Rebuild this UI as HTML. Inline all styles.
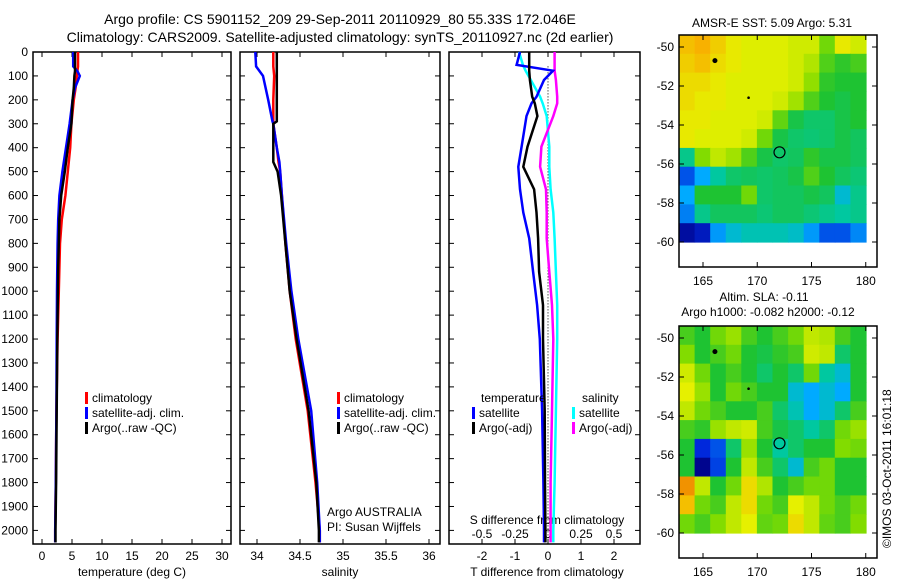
<!DOCTYPE html>
<html><head><meta charset="utf-8"><style>
body{margin:0;background:#fff}
svg{display:block;font-family:"Liberation Sans",sans-serif}
text{font-size:12px;fill:#000}
</style></head><body>
<svg id="fig" width="900" height="580" viewBox="0 0 900 580">
<text x="340" y="24" text-anchor="middle" style="font-size:14px">Argo profile: CS 5901152_209 29-Sep-2011 20110929_80 55.33S 172.046E</text>
<text x="340" y="42" text-anchor="middle" style="font-size:14px">Climatology: CARS2009. Satellite-adjusted climatology: synTS_20110927.nc (2d earlier)</text>
<text x="772" y="27" text-anchor="middle">AMSR-E SST: 5.09 Argo: 5.31</text>
<text x="764" y="301" text-anchor="middle">Altim. SLA: -0.11</text>
<text x="768" y="316" text-anchor="middle">Argo h1000: -0.082 h2000: -0.12</text>
<text transform="translate(891,548) rotate(-90)">©IMOS 03-Oct-2011 16:01:18</text>
<g id="g"></g>
</svg>
<script>
// ---- data ----
const depthTicks=[0,100,200,300,400,500,600,700,800,900,1000,1100,1200,1300,1400,1500,1600,1700,1800,1900,2000];
const tempTicks=[0,5,10,15,20,25,30];
const salTicks=[34,34.5,35,35.5,36];
const tdTicks=[-2,-1,0,1,2];
const sdTicks=["-0.5","-0.25","0","0.25","0.5"];
const lonTicks=[165,170,175,180];
const latTicks=[-50,-52,-54,-56,-58,-60];

const tDepth=[0,60,80,100,150,200,300,400,500,600,700,800,900,1000,1200,1500,1800,2000,2050];
const tClim=[6.0,6.0,5.9,5.8,5.6,5.3,4.9,4.7,4.3,3.9,3.3,3.0,2.9,2.8,2.6,2.4,2.3,2.2,2.2];
const tSat=[5.2,5.2,5.9,6.3,5.5,5.1,4.6,4.0,3.4,2.9,2.7,2.6,2.55,2.5,2.45,2.4,2.3,2.2,2.2];
const tArgo=[5.5,5.5,5.5,5.4,5.3,5.1,4.9,4.3,3.8,3.2,2.9,2.8,2.7,2.65,2.55,2.45,2.35,2.25,2.25];

const sDepth=[0,60,100,200,290,300,400,460,500,600,800,1000,1200,1500,1800,2000,2050];
const sClim=[34.19,34.19,34.2,34.19,34.19,34.19,34.23,34.25,34.27,34.29,34.33,34.38,34.45,34.59,34.68,34.73,34.73];
const sSat=[33.98,33.99,34.07,34.13,34.18,34.19,34.23,34.26,34.27,34.29,34.34,34.4,34.48,34.63,34.7,34.73,34.73];
const sArgo=[34.23,34.23,34.23,34.23,34.23,34.19,34.19,34.19,34.24,34.28,34.33,34.38,34.46,34.6,34.69,34.72,34.72];

const dDepth=[0,54,78,117,187,215,268,396,480,574,671,779,919,1058,1200,1500,1800,2000,2050];
const tdSat=[-0.85,-0.95,0.15,-0.12,-0.35,-0.5,-0.65,-0.8,-0.9,-0.85,-0.75,-0.57,-0.45,-0.33,-0.25,-0.18,-0.14,-0.12,-0.12];
const tdArgo=[-0.57,-0.57,-0.57,-0.55,-0.48,-0.4,-0.32,-0.62,-0.75,-0.42,-0.35,-0.3,-0.27,-0.15,-0.15,-0.1,-0.09,-0.08,-0.08];
const sdSat=[-0.22,-0.19,-0.17,-0.13,-0.06,-0.04,-0.01,0.01,0.01,0.02,0.04,0.05,0.06,0.07,0.07,0.06,0.05,0.04,0.04];
const sdArgo=[0.05,0.05,0.05,0.06,0.07,0.07,0.04,-0.05,-0.06,-0.015,-0.01,-0.01,0.01,0.03,0.04,0.03,0.02,0.02,0.02];

const sstGrid=[
[.82,.84,.8,.76,.74,.74,.74,.72,.72,.6,.76,.72],
[.8,.82,.78,.76,.74,.74,.74,.72,.68,.56,.52,.55],
[.78,.78,.76,.74,.74,.74,.74,.72,.64,.52,.5,.5],
[.78,.76,.76,.74,.74,.74,.72,.66,.56,.5,.48,.5],
[.76,.76,.74,.74,.74,.72,.58,.48,.45,.45,.48,.5],
[.76,.74,.74,.74,.72,.6,.48,.45,.44,.45,.48,.46],
[.42,.62,.7,.66,.56,.48,.45,.46,.52,.48,.48,.46],
[.2,.3,.4,.45,.46,.45,.46,.48,.56,.5,.46,.44],
[.3,.5,.5,.5,.6,.45,.46,.46,.48,.46,.35,.42],
[.25,.42,.46,.46,.46,.44,.46,.46,.44,.42,.4,.42],
[.05,.1,.28,.35,.38,.38,.38,.36,.28,.2,.2,.26]];
const slaGrid=[
[.55,.5,.6,.65,.55,.5,.55,.6,.7,.68,.55,.5],
[.62,.5,.55,.6,.5,.48,.52,.55,.72,.7,.45,.5],
[.72,.6,.5,.55,.5,.45,.5,.45,.6,.4,.35,.5],
[.75,.65,.5,.6,.55,.5,.5,.35,.3,.35,.3,.5],
[.7,.6,.55,.5,.5,.55,.45,.38,.3,.35,.45,.55],
[.55,.52,.65,.7,.72,.55,.48,.45,.4,.45,.6,.65],
[.5,.15,.2,.45,.65,.5,.4,.45,.5,.5,.62,.6],
[.5,.02,.18,.5,.7,.55,.45,.35,.55,.6,.5,.5],
[.88,.7,.5,.6,.78,.68,.5,.55,.6,.6,.5,.5],
[.82,.6,.55,.7,.78,.6,.55,.75,.7,.6,.55,.6],
[.6,.55,.62,.7,.75,.58,.6,.78,.7,.58,.55,.62]];
const argoLon=[172.05], argoLat=[-55.4];

// ---- helpers ----
const NS="http://www.w3.org/2000/svg";
const G=document.getElementById('g');
function el(t,a,p){const e=document.createElementNS(NS,t);for(const k in a)e.setAttribute(k,a[k]);(p||G).appendChild(e);return e;}
const yD=d=>52+d*0.2392;
function frame(x0,y0,x1,y1,name){const r=el('rect',{x:x0,y:y0,width:x1-x0,height:y1-y0,fill:'none',stroke:'#000','stroke-width':1.5});

}
function line(xs,ds,xf,col,name,w){const p=el('polyline',{points:xs.map((v,i)=>xf(v).toFixed(1)+','+yD(ds[i]).toFixed(1)).join(' '),fill:'none',stroke:col,'stroke-width':w||2.5});

}
function txt(x,y,s,name,anchor){const t=el('text',{x:x,y:y,'text-anchor':anchor||'start'});t.textContent=s;

return t;}
function tick(x1,y1,x2,y2){el('line',{x1,y1,x2,y2,stroke:'#000','stroke-width':1});}
function legend(x,y,items){items.forEach((it,i)=>{const r=el('rect',{x:x,y:y+i*15-10,width:3,height:12,fill:it[0]});


txt(x+7,y+i*15,it[1],'legend-entry');});}

// panels
const P1=[33,231],P2=[240,440],P3=[449,640],YB=544;
const xT=v=>42+v*6.0, xS=v=>257+(v-34)*86, xTD=v=>548+v*33, xSD=v=>548+v*132;
[[P1,'temperature-panel-frame'],[P2,'salinity-panel-frame'],[P3,'difference-panel-frame']].forEach(([p,n])=>frame(p[0],52,p[1],YB,n));
depthTicks.forEach(d=>{const y=yD(d);
 [P1,P2,P3].forEach(p=>{tick(p[0],y,p[0]+5,y);tick(p[1]-5,y,p[1],y);});
 txt(28,y+4,String(d),'depth-tick-label','end');});
tempTicks.forEach(v=>{tick(xT(v),YB,xT(v),YB-5);tick(xT(v),52,xT(v),57);txt(xT(v),560,String(v),'temp-tick-label','middle');});
salTicks.forEach(v=>{tick(xS(v),YB,xS(v),YB-5);tick(xS(v),52,xS(v),57);txt(xS(v),560,String(v),'salinity-tick-label','middle');});
tdTicks.forEach(v=>{tick(xTD(v),YB,xTD(v),YB-5);tick(xTD(v),52,xTD(v),57);txt(xTD(v),560,String(v),'tdiff-tick-label','middle');});
sdTicks.forEach(v=>{const x=xSD(parseFloat(v));txt(x,538,v,'sdiff-tick-label','middle');});
txt(132,576,'temperature (deg C)','x-axis-title-temperature','middle');
txt(340,576,'salinity','x-axis-title-salinity','middle');
txt(547,576,'T difference from climatology','x-axis-title-tdiff','middle');
txt(547,524,'S difference from climatology','x-axis-title-sdiff','middle');

line(tClim,tDepth,xT,'#f00','temp-climatology-line');
line(tSat,tDepth,xT,'#00f','temp-satellite-line');
line(tArgo,tDepth,xT,'#000','temp-argo-line');
legend(85,402,[['#f00','climatology'],['#00f','satellite-adj. clim.'],['#000','Argo(..raw -QC)']]);

line(sClim,sDepth,xS,'#f00','salinity-climatology-line');
line(sSat,sDepth,xS,'#00f','salinity-satellite-line');
line(sArgo,sDepth,xS,'#000','salinity-argo-line');
legend(337,402,[['#f00','climatology'],['#00f','satellite-adj. clim.'],['#000','Argo(..raw -QC)']]);
txt(327,516,'Argo AUSTRALIA','argo-agency-label');
txt(327,531,'PI: Susan Wijffels','argo-pi-label');

el('line',{x1:548,y1:yD(60),x2:548,y2:yD(2050),stroke:'#000','stroke-width':1,'stroke-dasharray':'1,2'});
line(sdSat,dDepth,xSD,'#0ff','sdiff-satellite-line');
line(sdArgo,dDepth,xSD,'#f0f','sdiff-argo-line');
line(tdSat,dDepth,xTD,'#00f','tdiff-satellite-line');
line(tdArgo,dDepth,xTD,'#000','tdiff-argo-line');
txt(481,402,'temperature','legend-title-temperature');
txt(582,402,'salinity','legend-title-salinity');
legend(472,417,[['#00f','satellite'],['#000','Argo(-adj)']]);
legend(572,417,[['#0ff','satellite'],['#f0f','Argo(-adj)']]);

// maps
function cmap(v){const st=[[0,[0,0,130]],[.15,[0,40,220]],[.3,[0,170,255]],[.4,[0,200,160]],[.5,[30,195,50]],[.62,[130,220,0]],[.75,[230,240,0]],[.85,[250,170,0]],[.95,[220,90,0]]];
 for(let i=1;i<st.length;i++){if(v<=st[i][0]){const a=st[i-1],b=st[i],t=(v-a[0])/(b[0]-a[0]);return 'rgb('+a[1].map((c,k)=>Math.round(c+(b[1][k]-c)*t)).join(',')+')';}}return 'rgb(220,90,0)';}
function map(y0,grid,name){
 const lonX=v=>703+(v-165)*10.85, latY=v=>y0+12+(-50-v)*19.5;
 const x0=679,x1=866,yTop=y0,yBot=latY(-60);
 const rows=grid.length,cols=grid[0].length,cw=(x1-x0)/cols,ch=(yBot-yTop)/rows;
 grid.forEach((r,i)=>r.forEach((v,j)=>{const c=el('rect',{x:(x0+j*cw).toFixed(1),y:(yTop+i*ch).toFixed(1),width:(cw+0.6).toFixed(1),height:(ch+0.6).toFixed(1),fill:cmap(v)});
 
 }));
 frame(679,y0,877,y0+232,name+'-frame');
 lonTicks.forEach(v=>{tick(lonX(v),y0+232,lonX(v),y0+227);tick(lonX(v),y0,lonX(v),y0+5);txt(lonX(v),y0+250,String(v),name+'-lon-label','middle');});
 latTicks.forEach(v=>{tick(679,latY(v),684,latY(v));tick(872,latY(v),877,latY(v));txt(674,latY(v)+4,String(v),name+'-lat-label','end');});
 argoLon.forEach((lo,i)=>{const c=el('circle',{cx:lonX(lo),cy:latY(argoLat[i]),r:5.5,fill:'none',stroke:'#000','stroke-width':1.2});
 
 });
 el('circle',{cx:lonX(166.1),cy:latY(-50.7),r:2.5,fill:'#000'});
 el('circle',{cx:lonX(169.2),cy:latY(-52.6),r:1.3,fill:'#000'});
}
map(35,sstGrid,'sst-map');
map(326,slaGrid,'sla-map');
</script>
</body></html>
